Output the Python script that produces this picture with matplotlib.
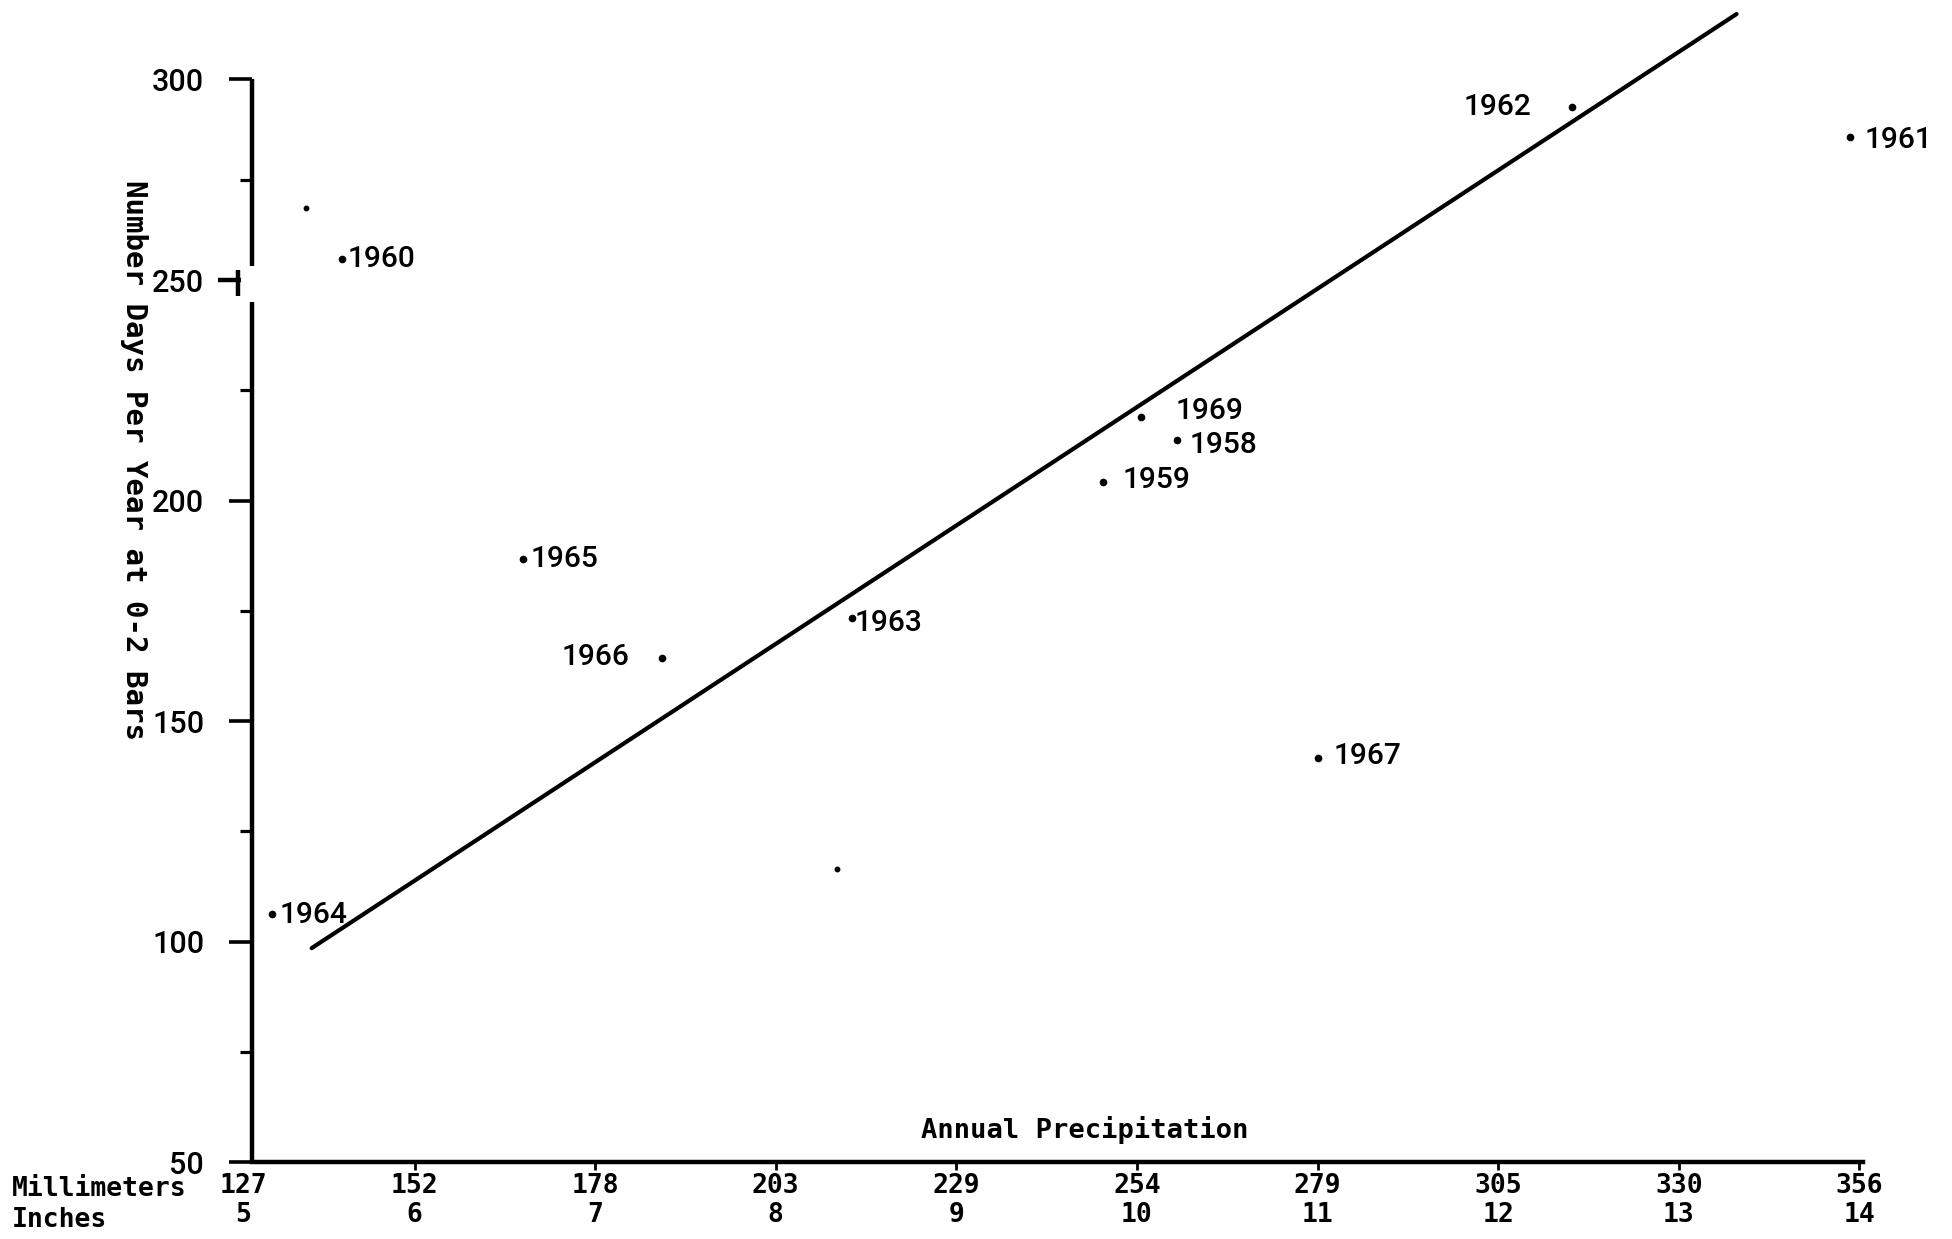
import matplotlib
matplotlib.use("Agg")
import matplotlib.pyplot as plt
import matplotlib.transforms as mtransforms
import numpy as np

# ---------------- data ----------------
years = ["1958", "1959", "1960", "1961", "1962", "1963",
         "1964", "1965", "1966", "1967", "1969"]
precip_in = [10.22, 9.81, 5.60, 13.95, 12.41, 8.42,
             5.21, 6.60, 7.37, 11.00, 10.02]
days_0_2_bars = [213.7, 204.2, 255.2, 285.6, 293.0, 173.4,
                 106.2, 186.7, 164.3, 141.6, 218.9]

# unlabelled marks on the sheet
extra_in = [8.34, 5.40]
extra_days = [116.4, 267.9]

# drawn regression line (end points)
fit_in = [5.43, 13.32]
fit_days = [98.5, 316.2]

inch_ticks = [5, 6, 7, 8, 9, 10, 11, 12, 13, 14]
mm_labels = ["127", "152", "178", "203", "229", "254", "279", "305", "330", "356"]
y_major = [50, 100, 150, 200, 250, 300]
y_minor = [75, 125, 175, 225, 275]
y_axis_at_in = 5.1          # hand-drawn vertical axis sits a little right of 5 in.

# label placement (pixels: dx, dy, horizontal alignment)
label_offsets = {
    "1958": (13, -5, "left"), "1959": (20, 2, "left"), "1960": (5, 0, "left"),
    "1961": (14, -3, "left"), "1962": (-41, 0, "right"), "1963": (3, -5, "left"),
    "1964": (8, -1, "left"), "1965": (8, 0, "left"), "1966": (-33, 1, "right"),
    "1967": (16, 2, "left"), "1969": (35, 6, "left"),
}

# ---------------- figure ----------------
W, H = 1952, 1239
fig = plt.figure(figsize=(W / 100, H / 100), dpi=100)
ax_left, ax_right, ax_bottom, ax_top = 234, 1863, 1162, 10
ax = fig.add_axes([ax_left / W, 1 - ax_bottom / H,
                   (ax_right - ax_left) / W, (ax_bottom - ax_top) / H])

# broken (compressed) scale above 250
k = 0.9116


def fwd(y):
    y = np.asarray(y, dtype=float)
    return np.where(y <= 250, y, 250 + (y - 250) * k)


def inv(y):
    y = np.asarray(y, dtype=float)
    return np.where(y <= 250, y, 250 + (y - 250) / k)


ax.set_yscale("function", functions=(fwd, inv))
ax.set_xlim(5, 14.02)
ax.set_ylim(50, 317.2)

SANS = ["Roboto", "Liberation Sans", "DejaVu Sans"]
MONO = ["DejaVu Sans Mono"]

# regression line
ax.plot(fit_in, fit_days, color="black", lw=3.0, solid_capstyle="round", zorder=3)

# points
ax.plot(precip_in, days_0_2_bars, "o", color="black", ms=4.5, zorder=4, clip_on=False)
ax.plot(extra_in, extra_days, "o", color="black", ms=3.2, zorder=4)

for yr, xv, yv in zip(years, precip_in, days_0_2_bars):
    dx, dy, ha = label_offsets[yr]
    ax.annotate(yr, (xv, yv), xytext=(dx, dy), textcoords="offset pixels",
                ha=ha, va="center", fontsize=21.5, family=SANS, weight="medium",
                annotation_clip=False)

# spines
for s in ("top", "right"):
    ax.spines[s].set_visible(False)
ax.spines["left"].set_position(("data", y_axis_at_in))
ax.spines["left"].set_visible(False)
ax.spines["bottom"].set_linewidth(3.2)
ax.spines["bottom"].set_bounds(y_axis_at_in, 14.02)

seg_kw = dict(color="black", lw=3.2, clip_on=False, solid_capstyle="butt")
px = 1 / 180.6   # inches per pixel horizontally
ax.plot([y_axis_at_in] * 2, [50, 245], **seg_kw)
ax.plot([y_axis_at_in] * 2, [253.5, 300], **seg_kw)
ax.plot([y_axis_at_in - 14 * px] * 2, [246.5, 252.5], **seg_kw)
ax.plot([y_axis_at_in - 34 * px, y_axis_at_in - 11 * px], [250, 250], **seg_kw)

# y ticks
ax.set_yticks(y_major)
ax.set_yticks(y_minor, minor=True)
ax.set_yticklabels([str(v) for v in y_major], family=SANS, fontsize=22, weight="medium")
ax.tick_params(axis="y", which="major", length=16.5, width=2.6, direction="out", pad=18)
ax.tick_params(axis="y", which="minor", length=8.5, width=2.3, direction="out")
ax.yaxis.get_major_ticks()[4].tick1line.set_visible(False)

# x ticks: millimetres over inches
ax.set_xticks(inch_ticks)
ax.set_xticklabels([f"{m}\n{i}" for m, i in zip(mm_labels, inch_ticks)],
                   family=MONO, fontsize=19, weight="bold", linespacing=1.12)
ax.tick_params(axis="x", length=6, width=2, direction="out", pad=2)
first_tick = ax.xaxis.get_major_ticks()[0]
first_tick.tick1line.set_visible(False)
first_tick.label1.set_transform(first_tick.label1.get_transform()
                                + mtransforms.Affine2D().translate(9, 0))

# axis titles
axw = ax_right - ax_left
axh = ax_bottom - ax_top
ax.text((1085 - ax_left) / axw, (ax_bottom - 1130) / axh,
        "Annual Precipitation", transform=ax.transAxes, ha="center", va="center",
        family=MONO, fontsize=19.5, weight="bold")
ax.text((134 - ax_left) / axw, (ax_bottom - 460) / axh,
        "Number Days Per Year at 0-2 Bars", transform=ax.transAxes, rotation=-90,
        ha="center", va="center", family=MONO, fontsize=21, weight="bold")
fig.text(12 / W, 1 - 1189 / H, "Millimeters", ha="left", va="center",
         family=MONO, fontsize=19, weight="bold")
fig.text(12 / W, 1 - 1220 / H, "Inches", ha="left", va="center",
         family=MONO, fontsize=19, weight="bold")

fig.savefig("out.png", dpi=100)
